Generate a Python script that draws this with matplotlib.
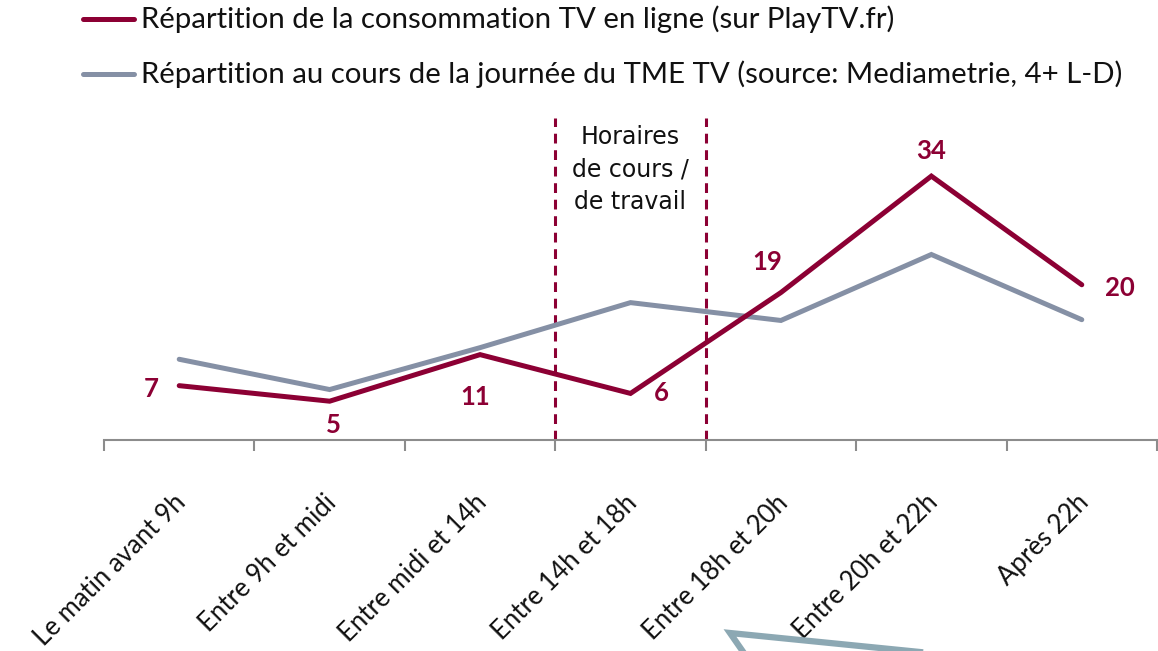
import matplotlib
matplotlib.use("Agg")
import matplotlib.pyplot as plt
from matplotlib.lines import Line2D
from matplotlib.transforms import ScaledTranslation

categories = ["Le matin avant 9h", "Entre 9h et midi", "Entre midi et 14h",
              "Entre 14h et 18h", "Entre 18h et 20h", "Entre 20h et 22h", "Après 22h"]
playtv = [7, 5, 11, 6, 19, 34, 20]
tme = [10.4, 6.5, 11.9, 17.7, 15.4, 23.9, 15.5]
series_names = ["Répartition de la consommation TV en ligne (sur PlayTV.fr)",
                "Répartition au cours de la journée du TME TV (source: Mediametrie, 4+ L-D)"]
annotation = "Horaires\nde cours /\nde travail"

RED = "#8C0034"
GRAY = "#8590A5"
FONT = ["Lato", "DejaVu Sans"]

W, H = 1158, 651
fig = plt.figure(figsize=(W / 100, H / 100), dpi=100)
ax = fig.add_axes([104 / W, 1 - 440 / H, (1157 - 104) / W, (440 - 114) / H])
ax.set_xlim(-0.5, 6.5)
ax.set_ylim(0, 42)

x = list(range(len(categories)))
ax.plot(x, tme, color=GRAY, lw=3.6, solid_joinstyle="miter", solid_capstyle="round", zorder=3)
ax.plot(x, playtv, color=RED, lw=3.6, solid_joinstyle="miter", solid_capstyle="round", zorder=4)

# dashed boundaries
for xb in (2.5, 3.5):
    ax.plot([xb, xb], [0, 41.5], color=RED, lw=2.2, ls=(0, (3.2, 2.2)), zorder=2, clip_on=False)
ax.text(3, 40.6, annotation, ha="center", va="top", fontsize=17, family="DejaVu Sans",
        linespacing=1.45, color="#111111")

# data labels (offsets in pixels)
offsets = [(-28, -3), (4, -24), (-5, -42), (31, 0), (-14, 31), (0, 25), (38, -3)]
for xi, v, (dx, dy) in zip(x, playtv, offsets):
    ax.annotate(str(v), (xi, v), xytext=(dx, dy), textcoords="offset pixels", ha="center",
                va="center", fontsize=18.5, fontweight="bold", color=RED, family=FONT)

# axes styling
for s in ("top", "right", "left"):
    ax.spines[s].set_visible(False)
ax.spines["bottom"].set_color("#8C8C8C")
ax.spines["bottom"].set_linewidth(1.5)
ax.set_yticks([])
ax.set_xticks(x)
ax.set_xticklabels(categories, rotation=45, ha="right", rotation_mode="anchor",
                   fontsize=18.5, family=FONT, color="#111111")
ax.tick_params(axis="x", which="major", length=0, pad=36)
shift = ScaledTranslation(-6 / 100, 0, fig.dpi_scale_trans)
for lbl in ax.get_xticklabels():
    lbl.set_transform(lbl.get_transform() + shift)
ax.set_xticks([i - 0.5 for i in range(len(categories) + 1)], minor=True)
ax.tick_params(axis="x", which="minor", length=8, width=1.5, color="#8C8C8C")

# legend (manual)
for yy, col, name in ((19, RED, series_names[0]), (74, GRAY, series_names[1])):
    fig.add_artist(Line2D([83 / W, 134 / W], [1 - yy / H, 1 - yy / H], color=col, lw=3.6,
                          solid_capstyle="round"))
    fig.text(141 / W, 1 - yy / H, name, ha="left", va="center", fontsize=21.2, family=FONT,
             color="#111111")

# partial callout shape at bottom
fig.add_artist(Line2D([930 / W, 730 / W, 746 / W], [1 - 653 / H, 1 - 633 / H, 1 - 656 / H],
                      color="#8CA8B3", lw=4.5, solid_joinstyle="miter"))

fig.savefig("out.png", dpi=100)
